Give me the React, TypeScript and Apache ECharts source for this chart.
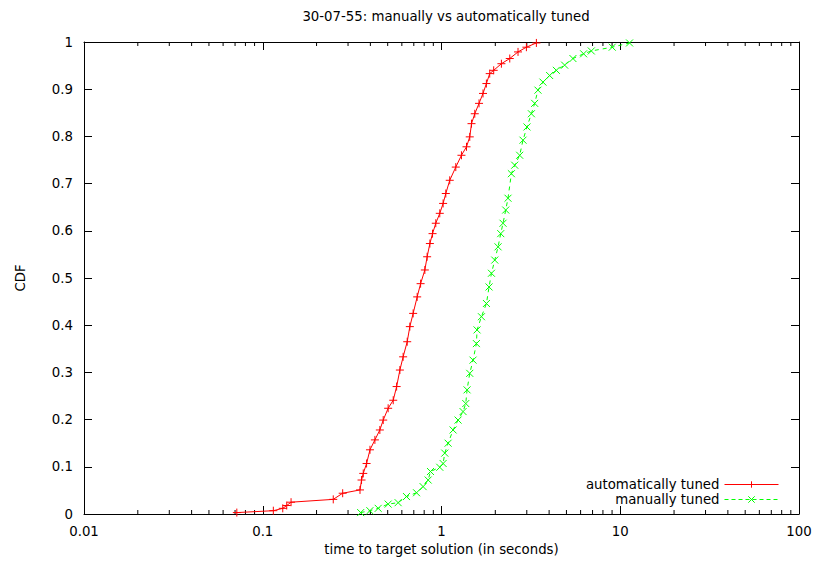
import React, { useEffect, useRef } from "react";
import * as echarts from "echarts";

const titleText = "30-07-55: manually vs automatically tuned";
const xAxisName = "time to target solution (in seconds)";
const yAxisName = "CDF";
const seriesNames = ["automatically tuned", "manually tuned"];
const seriesColors = ["#ff0000", "#00ff00"];

const autoTime = [
  0.0716, 0.1146, 0.1294, 0.1362, 0.144, 0.248, 0.28, 0.35, 0.357, 0.365,
  0.381, 0.398, 0.424, 0.452, 0.472, 0.503, 0.537, 0.561, 0.585, 0.61,
  0.643, 0.665, 0.694, 0.731, 0.764, 0.807, 0.831, 0.861, 0.891, 0.929,
  0.978, 1.021, 1.057, 1.112, 1.202, 1.293, 1.38, 1.439, 1.472, 1.535,
  1.622, 1.707, 1.783, 1.861, 1.959, 2.163, 2.409, 2.68, 2.985, 3.395,
];
const autoCdf = [
  0.003, 0.007, 0.012, 0.018, 0.025, 0.031, 0.044, 0.051, 0.072, 0.086,
  0.107, 0.136, 0.157, 0.178, 0.199, 0.224, 0.241, 0.27, 0.305, 0.333,
  0.365, 0.397, 0.425, 0.46, 0.488, 0.517, 0.545, 0.573, 0.594, 0.616,
  0.637, 0.658, 0.679, 0.707, 0.735, 0.76, 0.778, 0.799, 0.827, 0.848,
  0.87, 0.891, 0.912, 0.933, 0.94, 0.954, 0.965, 0.979, 0.989, 0.998,
];

const manualTime = [
  0.353, 0.3975, 0.4425, 0.503, 0.572, 0.637, 0.725, 0.789, 0.842, 0.868,
  0.978, 1.021, 1.043, 1.089, 1.161, 1.238, 1.32, 1.367, 1.39, 1.439,
  1.501, 1.568, 1.581, 1.673, 1.784, 1.845, 1.903, 1.986, 2.072, 2.145,
  2.209, 2.287, 2.355, 2.46, 2.568, 2.738, 2.857, 3.008, 3.183, 3.321,
  3.465, 3.695, 4.027, 4.39, 4.885, 5.436, 6.237, 6.887, 9.02, 11.27,
];
const manualCdf = [
  0.003, 0.007, 0.012, 0.021, 0.024, 0.037, 0.045, 0.058, 0.072, 0.09,
  0.099, 0.107, 0.129, 0.15, 0.178, 0.199, 0.217, 0.234, 0.263, 0.298,
  0.326, 0.361, 0.39, 0.418, 0.446, 0.481, 0.51, 0.538, 0.566, 0.594,
  0.616, 0.644, 0.669, 0.721, 0.739, 0.76, 0.792, 0.82, 0.848, 0.87,
  0.898, 0.915, 0.929, 0.94, 0.951, 0.965, 0.975, 0.981, 0.989, 0.998,
];

const xMinorTicks = [
  0.02, 0.03, 0.04, 0.05, 0.06, 0.07, 0.08, 0.09,
  0.2, 0.3, 0.4, 0.5, 0.6, 0.7, 0.8, 0.9,
  2, 3, 4, 5, 6, 7, 8, 9,
  20, 30, 40, 50, 60, 70, 80, 90,
];

const FONT = "DejaVu Sans";
const FS = 13.3;

export default function App() {
  const ref = useRef<HTMLDivElement>(null);
  useEffect(() => {
    if (!ref.current) return;
    const chart = echarts.init(ref.current, undefined, { renderer: "svg" });
    const plusPath = "path://M0,5L10,5M5,0L5,10";
    const crossPath = "path://M0,0L10,10M10,0L0,10";
    const logAxisBase = {
      type: "log" as const,
      logBase: 10,
      min: 0.01,
      max: 100,
      axisLine: { show: true, onZero: false, lineStyle: { color: "#000", width: 1 } },
      axisTick: { show: true, inside: true, length: 8, lineStyle: { color: "#000" } },
      splitLine: { show: false },
      minorTick: { show: false },
    };
    const valAxisBase = {
      type: "value" as const,
      min: 0,
      max: 1,
      interval: 0.1,
      axisLine: { show: true, onZero: false, lineStyle: { color: "#000", width: 1 } },
      axisTick: { show: true, inside: true, length: 8, lineStyle: { color: "#000" } },
      splitLine: { show: false },
    };
    chart.setOption({
      animation: false,
      backgroundColor: "#fff",
      textStyle: { fontFamily: FONT },
      title: {
        text: titleText,
        left: 441,
        textAlign: "center",
        top: 5,
        textStyle: { fontFamily: FONT, fontSize: FS, fontWeight: "normal", color: "#000" },
      },
      grid: { left: 84, right: 16, top: 42, bottom: 52, containLabel: false },
      legend: {
        orient: "vertical",
        right: 31,
        top: 472,
        align: "right",
        itemWidth: 54,
        itemHeight: 8,
        itemGap: 0,
        data: [
          {
            name: seriesNames[0],
            lineStyle: { color: seriesColors[0], width: 1, type: "solid" },
            itemStyle: { color: seriesColors[0], borderColor: seriesColors[0], borderWidth: 1 },
          },
          {
            name: seriesNames[1],
            lineStyle: { color: seriesColors[1], width: 1, type: [4, 3] },
            itemStyle: { color: seriesColors[1], borderColor: seriesColors[1], borderWidth: 1 },
          },
        ],
        textStyle: { fontFamily: FONT, fontSize: FS, color: "#000", lineHeight: 15 },
      },
      xAxis: [
        {
          ...logAxisBase,
          position: "bottom",
          name: xAxisName,
          nameLocation: "middle",
          nameGap: 29,
          nameTextStyle: { fontFamily: FONT, fontSize: FS, color: "#000" },
          axisLabel: { show: true, margin: 11, fontFamily: FONT, fontSize: FS, color: "#000" },
        },
        {
          ...logAxisBase,
          position: "top",
          axisLabel: { show: false },
        },
      ],
      yAxis: [
        {
          ...valAxisBase,
          position: "left",
          name: yAxisName,
          nameLocation: "middle",
          nameGap: 57,
          nameTextStyle: { fontFamily: FONT, fontSize: FS, color: "#000" },
          axisLabel: { show: true, margin: 11, fontFamily: FONT, fontSize: FS, color: "#000" },
        },
        {
          ...valAxisBase,
          position: "right",
          axisLabel: { show: false },
        },
      ],
      series: [
        {
          name: seriesNames[0],
          type: "line",
          xAxisIndex: 0,
          yAxisIndex: 0,
          data: autoTime.map((t, i) => [t, autoCdf[i]]),
          showSymbol: true,
          showAllSymbol: true,
          symbol: plusPath,
          symbolSize: 8,
          lineStyle: { color: seriesColors[0], width: 1 },
          itemStyle: { color: seriesColors[0], borderColor: seriesColors[0], borderWidth: 1 },
          z: 3,
        },
        {
          name: seriesNames[1],
          type: "line",
          xAxisIndex: 0,
          yAxisIndex: 0,
          data: manualTime.map((t, i) => [t, manualCdf[i]]),
          showSymbol: true,
          showAllSymbol: true,
          symbol: crossPath,
          symbolSize: 7,
          lineStyle: { color: seriesColors[1], width: 1, type: [4, 4] },
          itemStyle: { color: seriesColors[1], borderColor: seriesColors[1], borderWidth: 1 },
          z: 3,
        },
        {
          type: "custom",
          xAxisIndex: 0,
          yAxisIndex: 0,
          silent: true,
          clip: false,
          data: xMinorTicks.map((v) => [v, 0]),
          encode: { x: 0, y: 1 },
          renderItem: (_params: any, api: any) => {
            const v = api.value(0);
            const b = api.coord([v, 0]);
            const t = api.coord([v, 1]);
            return {
              type: "group",
              children: [
                { type: "line", shape: { x1: b[0], y1: b[1], x2: b[0], y2: b[1] - 4 }, style: { stroke: "#000", lineWidth: 1 } },
                { type: "line", shape: { x1: t[0], y1: t[1], x2: t[0], y2: t[1] + 4 }, style: { stroke: "#000", lineWidth: 1 } },
              ],
            };
          },
          z: 2,
        },
      ],
    });
    return () => chart.dispose();
  }, []);
  return <div ref={ref} style={{ position: "fixed", left: 0, top: 0, width: 815, height: 566 }} />;
}
